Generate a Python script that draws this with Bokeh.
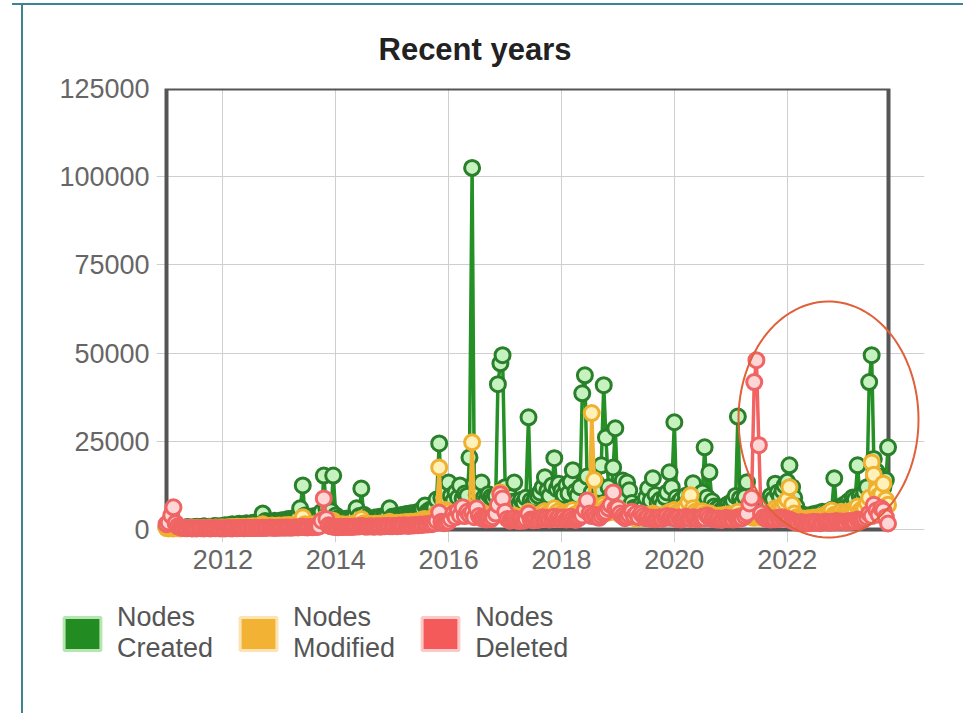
import numpy as np
import pandas as pd
from bokeh.plotting import figure
from bokeh.layouts import column
from bokeh.models import (Range1d, FixedTicker, DatetimeTickFormatter, BasicTickFormatter,
                          Legend, LegendItem, PolyAnnotation, ColumnDataSource)
from bokeh.embed import file_html
from bokeh.resources import INLINE

# ---------------- data (semi-monthly samples, 2011-01 .. 2023-10) ----------------
dates = pd.date_range("2011-01-01", periods=308, freq="SMS")

created = [
    # 2011
    800, 600, 500, 400, 700, 500, 600, 400, 500, 700, 600, 500, 700, 800, 600, 700, 900, 700, 800, 600, 900, 1000, 800, 900,
    # 2012
    1000, 1200, 900, 1300, 1500, 1200, 1400, 1600, 1300, 1500, 1800, 1400, 1700, 1900, 1600, 2000, 2200, 4500, 2400, 2000, 2300, 2100, 2500, 2200,
    # 2013
    2300, 2600, 2400, 2800, 3000, 2700, 3200, 2900, 3500, 6000, 12500, 4000, 3300, 3600, 3100, 3800, 3500, 4200, 5000, 15300, 6000, 4500, 5200, 15300,
    # 2014
    4000, 3200, 2800, 3000, 2600, 3100, 2900, 3300, 3500, 6000, 3800, 11600, 4200, 3400, 3000, 3200, 2900, 3400, 3100, 3600, 3300, 3800, 4100, 6000,
    # 2015
    3600, 3300, 3900, 3500, 4100, 3800, 4400, 4000, 4600, 4200, 4800, 4500, 5200, 5800, 6800, 5000, 5600, 5300, 6200, 8500, 24400, 9000, 7500, 11000,
    # 2016
    13300, 9500, 8200, 10500, 9000, 12500, 8800, 10200, 9600, 20400, 102500, 13000, 9800, 11200, 13300, 9000, 8500, 10000, 9200, 8700, 9500, 41200, 47100, 49400,
    # 2017
    12000, 8500, 9200, 7800, 13300, 8000, 7200, 8400, 7600, 9000, 31800, 8200, 7500, 8800, 9600, 10500, 12000, 14800, 11000, 9500, 12500, 20200, 11500, 13000,
    # 2018
    11000, 9800, 12500, 10200, 13500, 16800, 10800, 9600, 12000, 38600, 43700, 15000, 9000, 10500, 8800, 13200, 11500, 18200, 40900, 26100, 12000, 9500, 17600, 28700,
    # 2019
    8500, 7200, 13900, 9000, 13300, 11100, 7500, 6200, 5800, 6500, 7000, 6300, 9000, 11600, 8200, 14500, 9800, 7600, 8400, 7000, 9200, 10500, 16200, 12000,
    # 2020
    30400, 9000, 7800, 8500, 7200, 9600, 8000, 10200, 13100, 8400, 7600, 9000, 10500, 23300, 9100, 16200, 8000, 6500, 5800, 6200, 5500, 6000, 6800, 7200,
    # 2021
    7000, 8200, 9500, 32000, 8800, 7600, 9200, 13400, 7000, 6500, 6000, 5800, 6200, 5500, 6800, 7400, 8000, 9500, 8600, 13000, 10500, 9200, 11000, 12500,
    # 2022
    13500, 18200, 12000, 9000, 6500, 4500, 3800, 4200, 3500, 4000, 3600, 4300, 3900, 4600, 4100, 5000, 4400, 4800, 5200, 5600, 14500, 6000, 5400, 6500,
    # 2023
    7000, 6500, 8000, 7200, 9100, 8500, 18200, 9500, 8800, 10500, 12000, 41800, 49400, 20000, 16500, 15000, 13500, 12000, 14000, 23300,
]

modified = [
    # 2011
    400, 300, 350, 300, 400, 350, 300, 400, 350, 450, 400, 350, 400, 500, 450, 400, 500, 450, 550, 500, 450, 600, 500, 550,
    # 2012
    600, 500, 650, 550, 700, 600, 750, 650, 700, 800, 700, 850, 750, 900, 800, 850, 950, 1500, 900, 1000, 950, 1100, 1000, 1050,
    # 2013
    1100, 1000, 1200, 1100, 1300, 1150, 1250, 1200, 1400, 2000, 3500, 1500, 1300, 1400, 1350, 1500, 1450, 1600, 1800, 3000, 2000, 1700, 1800, 2500,
    # 2014
    1600, 1500, 1400, 1500, 1300, 1450, 1400, 1500, 1600, 2000, 1700, 3000, 1800, 1600, 1500, 1550, 1450, 1600, 1500, 1700, 1650, 1800, 1900, 2200,
    # 2015
    1800, 1700, 1900, 1800, 2000, 1900, 2100, 2000, 2200, 2100, 2300, 2200, 2500, 2800, 3000, 2600, 2900, 2700, 3200, 4500, 17600, 5000, 4000, 5500,
    # 2016
    5000, 4200, 3800, 4500, 4000, 4800, 3900, 4400, 4100, 6000, 24700, 5200, 4300, 4700, 5000, 3800, 3600, 4200, 3900, 3700, 4500, 7000, 10500, 6500,
    # 2017
    4800, 3500, 3900, 3300, 4000, 3400, 3200, 3600, 3300, 3800, 5000, 3500, 3300, 3700, 3900, 4200, 4800, 5200, 4500, 4200, 5000, 6000, 4800, 5200,
    # 2018
    4500, 4000, 4800, 4200, 5200, 5500, 4300, 4000, 4600, 6000, 7000, 5000, 8000, 33000, 14000, 6500, 5200, 5800, 7000, 6200, 4800, 5200, 5600, 6200,
    # 2019
    4800, 4200, 5200, 4000, 4500, 3800, 3500, 3300, 3100, 3400, 3600, 3200, 3800, 4200, 3900, 4500, 4100, 3700, 4000, 3600, 4200, 4600, 5000, 4800,
    # 2020
    5500, 4800, 4400, 5200, 4600, 6500, 7800, 9700, 6000, 5000, 4500, 4800, 5200, 4400, 4000, 4600, 4200, 3800, 3600, 4000, 3700, 4100, 3900, 4300,
    # 2021
    4000, 3800, 4200, 5000, 3900, 3600, 4100, 4500, 3800, 3500, 3300, 3600, 3400, 3700, 3500, 3800, 4200, 4800, 5200, 6000, 5500, 5000, 6200, 7500,
    # 2022
    8500, 12000, 7000, 4500, 3500, 3000, 2800, 3100, 2900, 3200, 3000, 3300, 3100, 3500, 3200, 3800, 4000, 4500, 4800, 5400, 4200, 3800, 4500, 5000,
    # 2023
    4500, 4000, 5000, 4400, 5500, 5000, 6500, 5200, 5800, 6000, 7500, 9000, 19000, 15500, 11000, 9500, 10000, 13000, 8500, 7000,
]

deleted = [
    # 2011
    1500, 2000, 4000, 6300, 1800, 900, 600, 500, 400, 350, 400, 300, 350, 300, 400, 350, 300, 400, 350, 300, 400, 350, 400, 300,
    # 2012
    350, 300, 400, 350, 300, 400, 350, 450, 400, 350, 500, 400, 450, 400, 500, 450, 400, 500, 450, 500, 550, 500, 450, 500,
    # 2013
    500, 550, 500, 600, 550, 500, 600, 650, 600, 700, 800, 650, 600, 700, 650, 750, 700, 900, 2500, 8800, 3000, 1200, 900, 800,
    # 2014
    700, 650, 750, 700, 800, 750, 700, 800, 750, 900, 850, 1000, 900, 800, 850, 900, 800, 850, 900, 800, 950, 900, 1000, 950,
    # 2015
    900, 1000, 950, 1100, 1000, 1200, 1100, 1000, 1200, 1100, 1300, 1200, 1400, 1300, 1500, 1400, 1600, 1500, 1800, 2500, 4800, 2200, 1800, 2000,
    # 2016
    2200, 3000, 4500, 3500, 5200, 4000, 6300, 3800, 5000, 4200, 4800, 3500, 6000, 3800, 3200, 3000, 2800, 3200, 2900, 3500, 4500, 7000, 10000, 8800,
    # 2017
    5000, 3000, 2500, 2800, 3200, 2600, 2400, 2900, 2500, 3000, 4500, 2800, 2600, 3000, 2700, 3200, 3500, 3000, 3300, 2800, 3100, 3600, 3000, 3400,
    # 2018
    3000, 3400, 2800, 3200, 3600, 3000, 2700, 3100, 3500, 4000, 5500, 8200, 4500, 3800, 4200, 3600, 3300, 3900, 4500, 5000, 6000, 7000, 10500, 6000,
    # 2019
    6000, 4500, 3800, 3200, 3600, 4200, 5000, 3800, 4500, 3500, 4500, 3800, 3200, 3500, 3000, 3300, 2900, 3200, 3500, 3000, 3400, 3800, 3300, 3600,
    # 2020
    3200, 3000, 3400, 2800, 3100, 3600, 3300, 3000, 3500, 3200, 2900, 3300, 3600, 3100, 4000, 3400, 3000, 3200, 2800, 3100, 2700, 3000, 3300, 2900,
    # 2021
    3100, 2800, 3300, 3000, 3500, 3200, 3800, 4500, 7400, 9000, 41800, 48000, 23900, 4500, 3500, 3000, 3200, 2800, 3100, 2900, 3300, 3000, 3400, 3200,
    # 2022
    3000, 2800, 2500, 2200, 2000, 1800, 2100, 1900, 1700, 2000, 1800, 2200, 1900, 2100, 1800, 2000, 2300, 2100, 1900, 2200, 2000, 2400, 2100, 2300,
    # 2023
    2200, 2000, 2400, 2100, 2500, 2300, 2800, 2400, 2600, 3000, 3500, 4500, 3800, 7000, 5400, 4200, 6000, 5400, 3500, 1700,
]

year_ticks = [2012, 2014, 2016, 2018, 2020, 2022]
y_ticks = [0, 25000, 50000, 75000, 100000, 125000]
series_names = ["Nodes\nCreated", "Nodes\nModified", "Nodes\nDeleted"]

assert len(created) == len(modified) == len(deleted) == len(dates)

FONT = "Liberation Sans"
TEAL = "#3b8590"

# visible chart box (data limits) and the slightly larger drawing frame around it
X0, X1 = pd.Timestamp("2011-01-01"), pd.Timestamp("2023-10-18")
Y0, Y1 = 0, 125000
BOX_W, BOX_H = 722, 441                  # px of the visible chart box
EXT_L, EXT_R, EXT_B = 10, 36, 13         # px of extra drawing room (markers overflow like the original)
x0ms, x1ms = X0.value / 1e6, X1.value / 1e6
ms_per_px = (x1ms - x0ms) / BOX_W
val_per_px = (Y1 - Y0) / BOX_H

p = figure(frame_width=BOX_W + EXT_L + EXT_R, frame_height=BOX_H + EXT_B,
           output_backend="svg", toolbar_location=None, x_axis_type="datetime",
           x_range=Range1d(x0ms - EXT_L * ms_per_px, x1ms + EXT_R * ms_per_px),
           y_range=Range1d(Y0 - EXT_B * val_per_px, Y1),
           min_border_left=156, min_border_right=39, min_border_top=88, min_border_bottom=48)
p.background_fill_color = "white"
p.border_fill_alpha = 0
p.outline_line_color = None
p.styles = {
    "background-color": "white",
    "background-image": f"linear-gradient({TEAL}, {TEAL}), linear-gradient({TEAL}, {TEAL})",
    "background-size": "2px 100%, 100% 2px",
    "background-position": "21px 3px, 12px 3px",
    "background-repeat": "no-repeat",
}

# title
p.title.text = "Recent years"
p.title.text_font = FONT
p.title.text_font_size = "31px"
p.title.text_font_style = "bold"
p.title.text_color = "#222222"
p.title.align = "left"
p.title.offset = 222
p.title.vertical_align = "top"
p.title.standoff = 40

# axes
tick_ms = [pd.Timestamp(f"{y}-01-01").value / 1e6 for y in year_ticks]
p.xaxis.ticker = FixedTicker(ticks=tick_ms)
p.xaxis.formatter = DatetimeTickFormatter(years="%Y", months="%Y", days="%Y", hours="%Y",
                                          hourmin="%Y", minutes="%Y", minsec="%Y",
                                          seconds="%Y", milliseconds="%Y", microseconds="%Y")
p.yaxis.ticker = FixedTicker(ticks=y_ticks)
p.yaxis.formatter = BasicTickFormatter(use_scientific=False)
for ax in (p.xaxis[0], p.yaxis[0]):
    ax.axis_line_color = None
    ax.major_tick_line_color = None
    ax.minor_tick_line_color = None
    ax.major_label_text_font = FONT
    ax.major_label_text_font_size = "27px"
    ax.major_label_text_color = "#666666"
p.yaxis.major_label_standoff = 1
p.xaxis.major_label_standoff = 1

p.xgrid.ticker = FixedTicker(ticks=tick_ms)
p.ygrid.ticker = FixedTicker(ticks=y_ticks)
p.xgrid.bounds = (Y0, Y1)
p.ygrid.bounds = (x0ms, x1ms)
p.grid.grid_line_color = "#cfcfcf"
p.grid.grid_line_width = 1

# chart box border
p.quad(left=[X0], right=[X1], bottom=[Y0], top=[Y1], fill_color=None,
       line_color="#555555", line_width=4)

src = ColumnDataSource(dict(date=dates, created=created, modified=modified, deleted=deleted))

styles = [
    ("created", "#259025", "#2a7f2a", "#c6f2c0"),
    ("modified", "#f2b233", "#f0b030", "#fff1b8"),
    ("deleted", "#f26363", "#f06464", "#ffd6d6"),
]
for col, lc, mc, fc in styles:
    p.line("date", col, source=src, line_color=lc, line_width=3.5)
    p.scatter("date", col, source=src, size=15, line_width=3, line_color=mc, fill_color=fc)

# hand-drawn highlight ellipse of the screenshot
t = np.linspace(0, 2 * np.pi, 120)
p.add_layout(PolyAnnotation(xs=list(828 + 90 * np.cos(t)), ys=list(419 + 118 * np.sin(t)),
                            xs_units="canvas", ys_units="canvas", fill_alpha=0,
                            line_color="#e0603a", line_alpha=1, line_width=2, level="overlay"))

# ---------------- legend strip below the chart ----------------
SHIFT = 97   # the strip's frame is aligned with the chart frame; shift it back to the page edge
lf = figure(width=963, height=125, output_backend="svg", toolbar_location=None,
            x_axis_location=None, y_axis_location=None,
            x_range=Range1d(0, 1), y_range=Range1d(0, 1),
            min_border_left=156, min_border_top=12, min_border_right=0, min_border_bottom=0)
lf.grid.visible = False
lf.outline_line_color = None
lf.background_fill_alpha = 0
lf.border_fill_alpha = 0
lf.styles = {
    "position": "relative",
    "left": f"-{SHIFT}px",
    "background-color": "white",
    "background-image": f"linear-gradient({TEAL}, {TEAL})",
    "background-size": "2px 100%",
    "background-position": f"{21 + SHIFT}px 0px",
    "background-repeat": "no-repeat",
}
swatch = [("#228B22", "#b6e6b0"), ("#f2b233", "#fbe3b2"), ("#f55a5a", "#fcc9c9")]
items = []
for name, (fc, lc) in zip(series_names, swatch):
    # swatch renderer kept outside the strip's visible range; only its legend glyph shows
    r = lf.quad(left=[5], right=[6], top=[6], bottom=[5], fill_color=fc, line_color=lc, line_width=3)
    items.append(LegendItem(label=name, renderers=[r]))
legend = Legend(items=items, orientation="horizontal", location="top_left",
                glyph_width=46, glyph_height=41, label_standoff=12, spacing=22,
                padding=0, margin=0, border_line_color=None, background_fill_alpha=0,
                label_text_font=FONT, label_text_font_size="27px",
                label_text_color="#555555", label_text_line_height=0.75)
lf.add_layout(legend, "center")

layout = column(p, lf, spacing=0)
open("out.html", "w").write(file_html(layout, INLINE))
